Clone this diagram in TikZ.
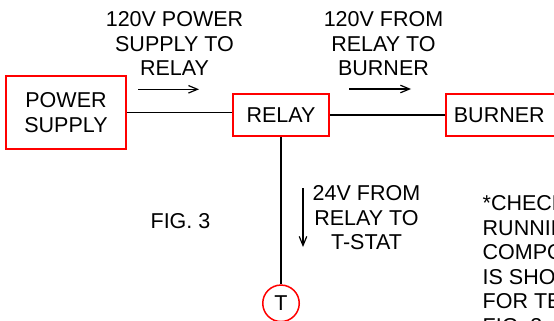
\documentclass[tikz,border=0pt]{standalone}
\usepackage{fontspec}
\setmainfont{Liberation Sans}
\usetikzlibrary{arrows.meta}
\begin{document}
\begin{tikzpicture}[x=1pt, y=-1pt,
  font=\fontsize{21.5}{24.5}\selectfont,
  box/.style={draw=red, line width=1.8pt, align=center, inner sep=0pt,
               minimum height=#1},
  lbl/.style={align=center, inner sep=0pt},
  wire/.style={line width=1.2pt},
  arr/.style={-{Straight Barb[length=9pt, width=7.5pt]}, line width=1.2pt}
]
  \useasboundingbox (0,0) rectangle (554,321);
  \clip (0,0) rectangle (554,321);

  \node[box=73pt, minimum width=120pt] (supply) at (66,112.5)
        {POWER\\SUPPLY};
  \node[box=42pt, minimum width=96pt] (relay) at (281,115)
        {RELAY};
  \node[box=42pt, anchor=west, text width=100pt, inner xsep=8pt,
        align=left] (burner) at (445,115) {BURNER};
  \node[draw=red, circle, line width=1.5pt, inner sep=0pt,
        minimum size=36.5pt] (tstat) at (281,303.3) {T};

  \node[lbl] (lsupply) at (174.5,43.8) {120V POWER\\SUPPLY TO\\RELAY};
  \node[lbl] (lburner) at (383.5,43.8) {120V FROM\\RELAY TO\\BURNER};
  \node[lbl] (ltstat) at (366.5,218) {24V FROM\\RELAY TO\\T-STAT};
  \node[lbl] (fig) at (180.5,220.7) {FIG. 3};
  \node[lbl, anchor=north west, align=left] (note) at (482.5,195.5)
        {*CHECK\\RUNNING\\COMPONENT\\IS SHOWN\\FOR TEST\\FIG. 3};

  \coordinate (a1) at (138,89.3);
  \coordinate (a2) at (199,89.3);
  \coordinate (b1) at (349,89);
  \coordinate (b2) at (411,89);
  \coordinate (c1) at (303,188);
  \coordinate (c2) at (303,247);

  \draw[wire] (supply) -- (supply -| relay.west);
  \draw[wire] (relay) -- (burner);
  \draw[wire] (relay) -- (tstat);
  \draw[arr] (a1) -- (a2);
  \draw[arr] (b1) -- (b2);
  \draw[arr] (c1) -- (c2);
\end{tikzpicture}
\end{document}
